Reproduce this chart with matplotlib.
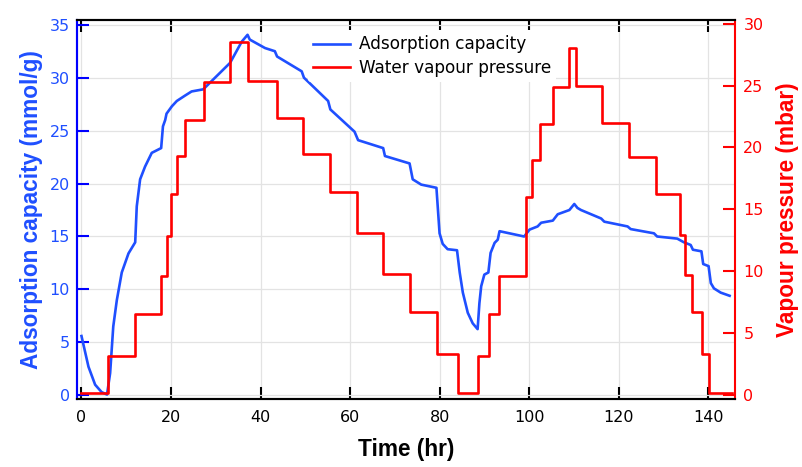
import numpy as np
import matplotlib
matplotlib.use('Agg')
import matplotlib.pyplot as plt
from matplotlib import font_manager

###Data

##Water vapour pressure (mbar): step start times (hr) and levels
vp_time = [0.0, 6.0, 12.0, 17.8, 19.0, 20.1, 21.3, 23.2, 27.3, 33.2, 37.3, 43.6, 49.6,
           55.5, 61.5, 67.4, 73.4, 79.5, 84.1, 88.6, 91.1, 93.2, 99.2, 100.6, 102.5,
           105.3, 109.0, 110.5, 116.3, 122.4, 128.3, 133.7, 134.9, 136.3, 138.6, 140.2, 145.4]
vp_level = [0.1, 3.15, 6.55, 9.6, 12.8, 16.2, 19.3, 22.2, 25.3, 28.5, 25.4, 22.4, 19.5,
            16.4, 13.1, 9.75, 6.7, 3.3, 0.14, 3.15, 6.55, 9.6, 16.0, 19.0, 21.9,
            24.9, 28.0, 25.0, 22.0, 19.2, 16.2, 12.9, 9.7, 6.7, 3.3, 0.1, 0.1]

##Adsorption capacity (mmol/g)
ads_time = [0.0, 1.56, 3.05, 4.5, 5.7, 6.4, 7.1, 7.9, 9.0, 10.5, 12.0, 12.35, 13.1, 14.2,
            15.7, 17.8, 18.2, 18.7, 19.0, 20.2, 21.3, 23.1, 24.6, 27.2, 33.2, 35.8, 37.1,
            37.6, 41.0, 43.2, 43.7, 49.2, 49.7, 55.1, 55.6, 61.0, 61.8, 67.4, 67.8, 73.3,
            74.0, 75.9, 79.3, 80.0, 80.7, 81.8, 83.9, 84.5, 85.2, 86.3, 87.4, 88.5, 88.9,
            89.3, 90.0, 90.9, 91.4, 92.3, 93.0, 93.4, 94.5, 98.9, 100.1, 101.9, 102.7,
            105.3, 106.4, 109.0, 110.1, 110.8, 111.6, 116.1, 116.8, 122.0, 122.7, 127.9,
            128.6, 133.1, 134.6, 136.1, 136.6, 138.5, 138.9, 140.1, 140.6, 141.3, 142.8, 144.8]
ads_cap = [5.6, 2.7, 1.0, 0.3, 0.07, 2.1, 6.5, 9.0, 11.6, 13.4, 14.45, 17.85, 20.4, 21.6,
           22.9, 23.35, 25.4, 26.0, 26.6, 27.3, 27.8, 28.3, 28.7, 28.9, 31.4, 33.4, 34.05,
           33.6, 32.8, 32.5, 32.0, 30.6, 30.0, 27.8, 27.0, 24.9, 24.1, 23.35, 22.6, 21.9,
           20.4, 19.9, 19.6, 15.3, 14.3, 13.8, 13.7, 11.6, 9.7, 7.8, 6.8, 6.25, 8.7,
           10.3, 11.4, 11.6, 13.45, 14.4, 14.7, 15.5, 15.4, 15.0, 15.65, 15.95, 16.3,
           16.5, 17.1, 17.5, 18.07, 17.7, 17.5, 16.7, 16.4, 15.95, 15.7, 15.3,
           15.0, 14.8, 14.45, 14.2, 13.75, 13.6, 12.4, 12.2, 10.6, 10.1, 9.7, 9.4]

x_ticks = [0, 20, 40, 60, 80, 100, 120, 140]
left_ticks = [0, 5, 10, 15, 20, 25, 30, 35]
right_ticks = [0, 5, 10, 15, 20, 25, 30]

blue = '#1f4fff'
red = '#ff0000'

##Bold Helvetica-like font for the axis labels (avoid the Narrow variant)
bold_file = [f for f in font_manager.findSystemFonts() if f.endswith('LiberationSans-Bold.ttf')]
if bold_file:
    lab_prop = font_manager.FontProperties(fname=bold_file[0], size=16.3)
else:
    lab_prop = font_manager.FontProperties(family='DejaVu Sans', weight='bold', size=15)

###Plotting
fig = plt.figure(figsize=(8.03, 4.67), dpi=100)
ax1 = fig.add_axes([0.0959, 0.1456, 0.8194, 0.8116])
ax2 = ax1.twinx()

l1, = ax1.plot(ads_time, ads_cap, color=blue, lw=1.9, label='Adsorption capacity')
l2, = ax2.step(vp_time, vp_level, where='post', color=red, lw=1.9, label='Water vapour pressure')

ax1.set_xlim(-1, 146)
ax1.set_ylim(-0.35, 35.45)
ax2.set_ylim(-0.35, 30.3)
ax1.set_xticks(x_ticks)
ax1.set_yticks(left_ticks)
ax2.set_yticks(right_ticks)

#Grid
ax1.grid(True, color='#e3e3e3', lw=0.9)
ax1.set_axisbelow(True)

#Spines
for ax in (ax1, ax2):
    for s in ax.spines.values():
        s.set_linewidth(1.5)
ax2.spines['left'].set_color('#0000ff')
ax2.spines['right'].set_color(red)
ax1.spines['left'].set_color('#0000ff')
ax1.spines['right'].set_visible(False)

#Ticks
tick_font = 11.5
ax1.tick_params(axis='x', which='both', direction='in', length=8.5, width=1.5,
                top=True, bottom=True, pad=8, labelsize=tick_font, colors='black')
ax1.tick_params(axis='y', direction='in', length=8.5, width=1.5, color='#0000ff',
                labelcolor=blue, pad=5, labelsize=tick_font)
ax2.tick_params(axis='y', direction='in', length=8.5, width=1.5, color=red,
                labelcolor=red, pad=6, labelsize=tick_font)

#Labels
ax1.set_xlabel('Time (hr)', color='black', labelpad=9, fontproperties=lab_prop)
ax1.set_ylabel('Adsorption capacity (mmol/g)', color=blue, labelpad=5, fontproperties=lab_prop)
ax2.set_ylabel('Vapour pressure (mbar)', color=red, labelpad=9, fontproperties=lab_prop)

#Legend
leg = ax2.legend([l1, l2], ['Adsorption capacity', 'Water vapour pressure'],
                 loc='upper left', bbox_to_anchor=(0.338, 0.995), fontsize=12.2,
                 frameon=True, framealpha=1, edgecolor='none', handlelength=2.2,
                 handletextpad=0.5, borderpad=0.3, labelspacing=0.35)
leg.get_frame().set_linewidth(0)

plt.savefig('out.png', dpi=100)
